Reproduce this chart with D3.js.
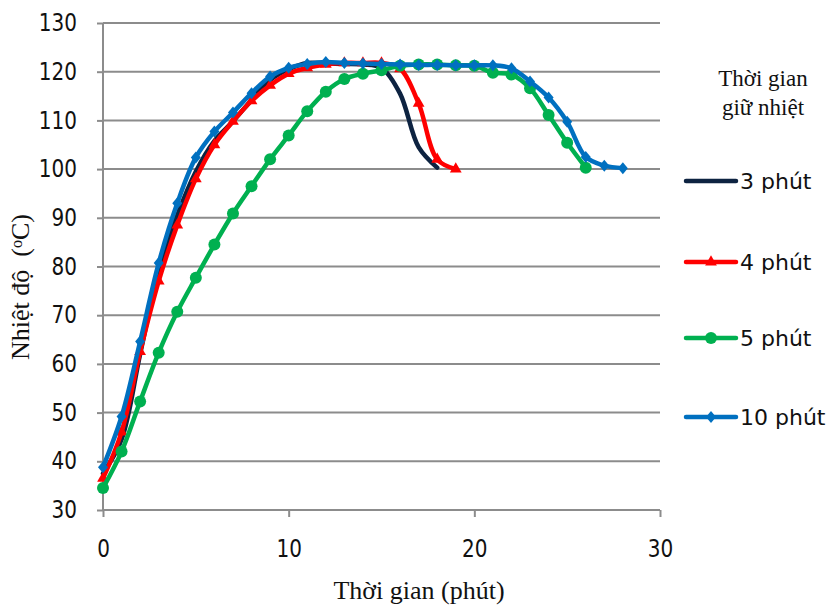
<!DOCTYPE html>
<html>
<head>
<meta charset="utf-8">
<script src="https://cdn.jsdelivr.net/npm/d3@7"></script>
<style>
  body { margin: 0; background: #fff; }
  svg { display: block; }
</style>
</head>
<body>
<svg id="chart" width="834" height="605"></svg>
<script>
// ---------- data ----------
const seriesNames = ["3 phút", "4 phút", "5 phút", "10 phút"];
const time3  = [0,1,2,3,4,5,6,7,8,9,10,11,12,13,14,15,16,17,18];
const temp3  = [37.5,44.5,62,79,90.5,99.5,105.8,109.8,114.2,118.3,120.5,121.8,121.7,121.6,121.5,120.8,115.5,104.5,100.3];
const time4  = [0,1,2,3,4,5,6,7,8,9,10,11,12,13,14,15,16,17,18,19];
const temp4  = [36.5,46,62.5,77,88.5,98,105,109.8,114,117.2,119.6,120.8,121.5,121.8,121.8,121.8,120.6,113.5,102,100];
const time5  = [0,1,2,3,4,5,6,7,8,9,10,11,12,13,14,15,16,17,18,19,20,21,22,23,24,25,26];
const temp5  = [34.5,42,52.3,62.3,70.7,77.7,84.5,90.9,96.5,102,106.9,111.9,115.9,118.5,119.6,120.3,121.2,121.5,121.5,121.3,121.2,119.8,119.4,116.6,111.1,105.4,100.3];
const time10 = [0,1,2,3,4,5,6,7,8,9,10,11,12,13,14,15,16,17,18,19,20,21,22,23,24,25,26,27,28];
const temp10 = [38.8,49.2,64.6,80.7,93,102.4,107.7,111.6,115.6,119,120.8,121.6,122,121.8,121.7,121.6,121.5,121.4,121.4,121.3,121.3,121.3,120.7,118,114.7,109.7,102.5,100.7,100.2];
const xTicks = [0,10,20,30];
const yTicks = [30,40,50,60,70,80,90,100,110,120,130];
const xTitle = "Thời gian (phút)";
const yTitle = "Nhiệt độ  (";
const legendTitle = ["Thời gian", "giữ nhiệt"];

// ---------- styles ----------
const colors  = ["#0d2341", "#ff0000", "#00b050", "#0070c0"];
const markers = [null, "triangle", "circle", "diamond"];

const svg = d3.select("#chart");
const M = {left: 103, right: 660, top: 23, bottom: 510};
const x = d3.scaleLinear().domain([0, 30]).range([M.left, M.right]);
const y = d3.scaleLinear().domain([30, 130]).range([M.bottom, M.top]);
const stretch = 1.2;

// gridlines
svg.append("g")
  .selectAll("line").data(yTicks.filter(d => d !== 30)).join("line")
  .attr("x1", M.left).attr("x2", M.right)
  .attr("y1", d => y(d)).attr("y2", d => y(d))
  .attr("stroke", "#8c8c8c").attr("stroke-width", 2);

// y axis
const yAxis = svg.append("g").attr("transform", `translate(${M.left},0)`)
  .call(d3.axisLeft(y).tickValues(yTicks).tickSize(6).tickPadding(20));
yAxis.select(".domain").attr("stroke", "#8c8c8c").attr("stroke-width", 2)
  .attr("d", `M0,${M.top}V${M.bottom}`);
yAxis.selectAll(".tick line").attr("stroke", "#8c8c8c").attr("stroke-width", 2);
yAxis.selectAll(".tick text").attr("font-family", "DejaVu Sans").attr("font-size", 20).attr("fill", "#111")
  .attr("transform", `scale(1,${stretch})`);

// x axis
const xAxis = svg.append("g").attr("transform", `translate(0,${M.bottom})`)
  .call(d3.axisBottom(x).tickValues(xTicks).tickSize(7));
xAxis.select(".domain").attr("stroke", "#8c8c8c").attr("stroke-width", 2)
  .attr("d", `M${M.left},0H${M.right}`);
xAxis.selectAll(".tick line").attr("stroke", "#8c8c8c").attr("stroke-width", 2);
xAxis.selectAll(".tick text").attr("font-family", "DejaVu Sans").attr("font-size", 20).attr("fill", "#111")
  .attr("y", 47 / stretch).attr("dy", 0).attr("transform", `scale(1,${stretch})`);

// series
const allSeries = [
  {name: seriesNames[0], t: time3,  v: temp3},
  {name: seriesNames[1], t: time4,  v: temp4},
  {name: seriesNames[2], t: time5,  v: temp5},
  {name: seriesNames[3], t: time10, v: temp10}
];
const line = d3.line().x(d => x(d[0])).y(d => y(d[1])).curve(d3.curveCatmullRom.alpha(0.5));

function drawMarker(g, type, cx, cy, color, s) {
  if (type === "triangle") {
    g.append("path").attr("d", d3.symbol().type(d3.symbolTriangle).size(s * 60)())
      .attr("transform", `translate(${cx},${cy})`).attr("fill", color);
  } else if (type === "circle") {
    g.append("circle").attr("cx", cx).attr("cy", cy).attr("r", s * 6).attr("fill", color);
  } else if (type === "diamond") {
    g.append("path").attr("d", `M0,${-6*s}L${5*s},0L0,${6*s}L${-5*s},0Z`)
      .attr("transform", `translate(${cx},${cy})`).attr("fill", color);
  }
}

allSeries.forEach((s, i) => {
  const pts = s.t.map((t, k) => [t, s.v[k]]);
  const g = svg.append("g");
  g.append("path").datum(pts).attr("d", line)
    .attr("fill", "none").attr("stroke", colors[i]).attr("stroke-width", 4.5)
    .attr("stroke-linejoin", "round").attr("stroke-linecap", "round");
  if (markers[i]) pts.forEach(p => drawMarker(g, markers[i], x(p[0]), y(p[1]), colors[i], 1));
});

// legend
const legTitle = svg.append("text").attr("font-family", "Liberation Serif").attr("font-size", 23)
  .attr("text-anchor", "middle").attr("fill", "#111");
legTitle.append("tspan").attr("x", 763).attr("y", 86).text(legendTitle[0]);
legTitle.append("tspan").attr("x", 763).attr("y", 115).text(legendTitle[1]);

const legY = [181, 262, 338, 417];
seriesNames.forEach((n, i) => {
  const g = svg.append("g");
  g.append("line").attr("x1", 686).attr("x2", 736).attr("y1", legY[i]).attr("y2", legY[i])
    .attr("stroke", colors[i]).attr("stroke-width", 4.5).attr("stroke-linecap", "round");
  if (markers[i]) drawMarker(g, markers[i], 711, legY[i], colors[i], 1);
  g.append("text").attr("x", 740).attr("y", legY[i]).attr("dy", "0.36em")
    .attr("font-family", "DejaVu Sans").attr("font-size", 22).attr("fill", "#111").text(n);
});

// axis titles
svg.append("text").attr("x", 419).attr("y", 599).attr("text-anchor", "middle")
  .attr("font-family", "Liberation Serif").attr("font-size", 26).attr("fill", "#111").text(xTitle);

const yt = svg.append("text").attr("transform", "translate(29,287) rotate(-90)")
  .attr("text-anchor", "middle").attr("font-family", "Liberation Serif").attr("font-size", 26)
  .attr("fill", "#111").style("white-space", "pre");
yt.append("tspan").text(yTitle);
yt.append("tspan").attr("font-size", 16).attr("baseline-shift", "45%").text("o");
yt.append("tspan").text("C)");
</script>
</body>
</html>
